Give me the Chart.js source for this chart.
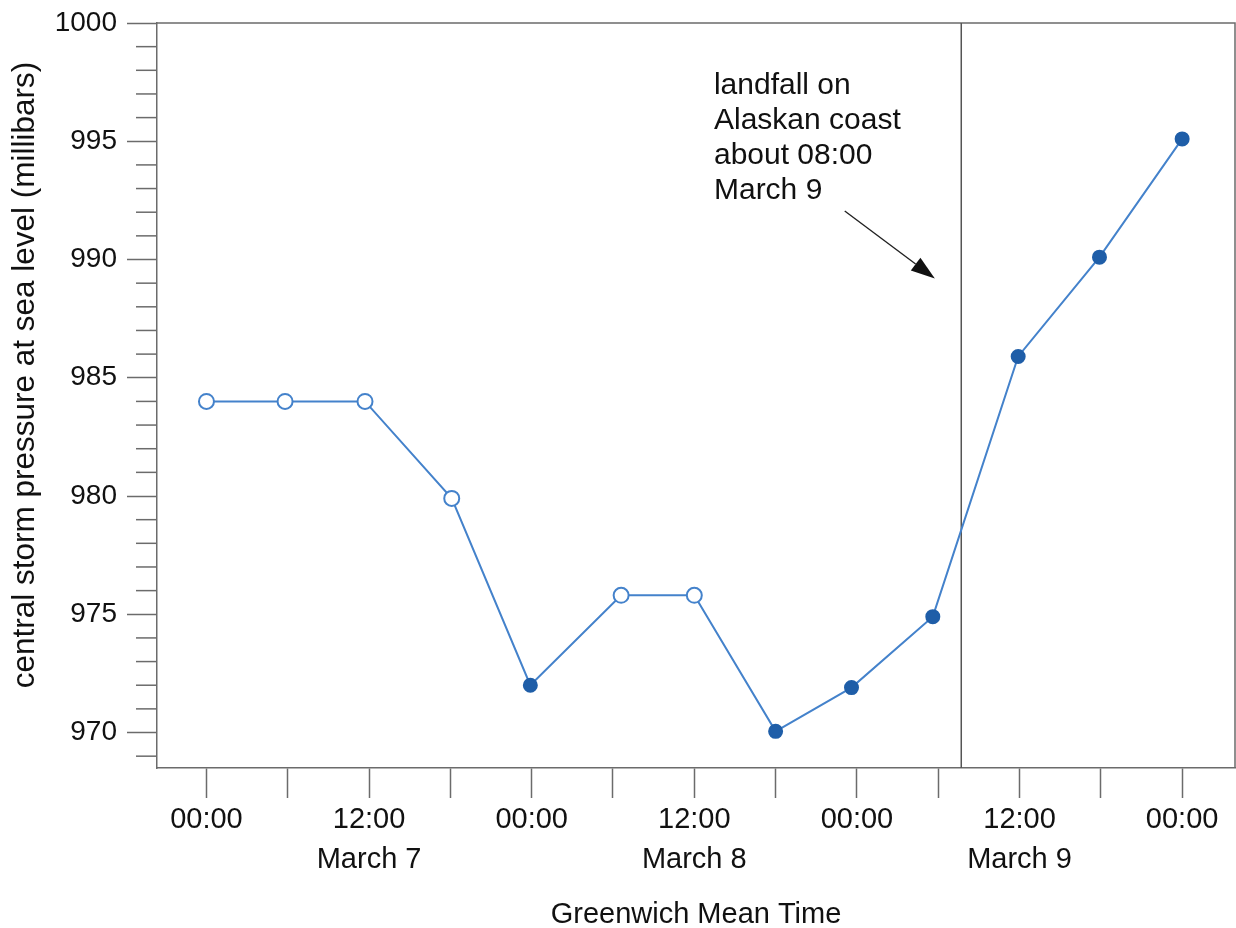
<!DOCTYPE html>
<html><head><meta charset="utf-8">
<script src="https://cdn.jsdelivr.net/npm/chart.js@4.4.1/dist/chart.umd.min.js"></script>
<style>html,body{margin:0;padding:0;background:#fff;overflow:hidden}#wrap{width:1236px;height:928px}</style>
</head><body><div id="wrap"><canvas id="c" width="1236" height="928"></canvas></div>
<script>
// ---- data (hours after 00:00 GMT March 7) ----
const hours = [0, 5.8, 11.7, 18.1, 23.9, 30.6, 36, 42, 47.6, 53.6, 59.9, 65.9, 72];
const pressure = [984, 984, 984, 979.9, 972, 975.8, 975.8, 970.05, 971.9, 974.9, 985.9, 990.1, 995.1];
const filledMarker = [false, false, false, false, true, false, false, true, true, true, true, true, true];

// ---- axis ticks ----
const xTickHours = [0, 6, 12, 18, 24, 30, 36, 42, 48, 54, 60, 66, 72];
const xTickTimes = ['00:00', '', '12:00', '', '00:00', '', '12:00', '', '00:00', '', '12:00', '', '00:00'];
const xTickDates = ['', '', 'March 7', '', '', '', 'March 8', '', '', '', 'March 9', '', ''];
const yMajorTicks = [970, 975, 980, 985, 990, 995, 1000];
const yMinorTicks = [969, 971, 972, 973, 974, 976, 977, 978, 979, 981, 982, 983, 984, 986, 987, 988, 989, 991, 992, 993, 994, 996, 997, 998, 999];

// ---- annotation ----
const landfallHour = 55.7;
const noteLines = ['landfall on', 'Alaskan coast', 'about 08:00', 'March 9'];
const noteAnchor = {hour: 37.45, value: 997};
const arrowFrom = {hour: 47.1, value: 992.05};
const arrowTo = {hour: 53.75, value: 989.2};

const xTitle = 'Greenwich Mean Time';
const yTitle = 'central storm pressure at sea level (millibars)';

const FONT = '"Liberation Sans", Arial, Helvetica, sans-serif';
const AXIS = '#6b6b6b';
const LINE = '#4482cb';
const DARK = '#1f5ea8';

const deco = {
  id: 'deco',
  beforeDatasetsDraw(chart) {
    const {ctx, chartArea: a, scales: {x, y}} = chart;
    ctx.save();
    ctx.strokeStyle = AXIS; ctx.lineWidth = 1.5;
    ctx.beginPath();
    ctx.moveTo(a.left, a.top); ctx.lineTo(a.right, a.top); ctx.lineTo(a.right, a.bottom);
    ctx.stroke();
    const lx = x.getPixelForValue(landfallHour);
    ctx.strokeStyle = '#555'; ctx.lineWidth = 1.5;
    ctx.beginPath(); ctx.moveTo(lx, a.top); ctx.lineTo(lx, a.bottom); ctx.stroke();
    ctx.restore();
  },
  afterDraw(chart) {
    const {ctx, chartArea: a, scales: {x, y}} = chart;
    ctx.save();
    ctx.strokeStyle = AXIS; ctx.lineWidth = 1.5;
    yMinorTicks.forEach(v => {
      const py = y.getPixelForValue(v);
      ctx.beginPath(); ctx.moveTo(a.left - 21, py); ctx.lineTo(a.left, py); ctx.stroke();
    });
    ctx.fillStyle = '#111';
    ctx.font = '30px ' + FONT;
    ctx.textAlign = 'left'; ctx.textBaseline = 'alphabetic';
    const tx = x.getPixelForValue(noteAnchor.hour), ty = y.getPixelForValue(noteAnchor.value);
    noteLines.forEach((t, i) => ctx.fillText(t, tx, ty + i * 35));
    const x0 = x.getPixelForValue(arrowFrom.hour), y0 = y.getPixelForValue(arrowFrom.value);
    const x1 = x.getPixelForValue(arrowTo.hour), y1 = y.getPixelForValue(arrowTo.value);
    const ang = Math.atan2(y1 - y0, x1 - x0);
    const hl = 24, hw = 8;
    const bx = x1 - hl * Math.cos(ang), by = y1 - hl * Math.sin(ang);
    ctx.strokeStyle = '#222'; ctx.lineWidth = 1.4;
    ctx.beginPath(); ctx.moveTo(x0, y0); ctx.lineTo(bx, by); ctx.stroke();
    ctx.fillStyle = '#111';
    ctx.beginPath();
    ctx.moveTo(x1, y1);
    ctx.lineTo(bx + hw * Math.sin(ang), by - hw * Math.cos(ang));
    ctx.lineTo(bx - hw * Math.sin(ang), by + hw * Math.cos(ang));
    ctx.closePath(); ctx.fill();
    ctx.fillStyle = '#111';
    ctx.font = '29px ' + FONT;
    ctx.textAlign = 'center'; ctx.textBaseline = 'alphabetic';
    ctx.fillText(xTitle, (a.left + a.right) / 2, 923);
    ctx.save();
    ctx.translate(34, 375);
    ctx.rotate(-Math.PI / 2);
    ctx.font = '31.5px ' + FONT;
    ctx.fillText(yTitle, 0, 0);
    ctx.restore();
    ctx.restore();
  }
};

new Chart(document.getElementById('c'), {
  type: 'line',
  data: {
    datasets: [{
      data: hours.map((h, i) => ({x: h, y: pressure[i]})),
      borderColor: LINE,
      borderWidth: 2,
      tension: 0,
      fill: false,
      pointRadius: ctx => filledMarker[ctx.dataIndex] ? 6.5 : 7.5,
      pointBorderWidth: 2,
      pointBorderColor: ctx => filledMarker[ctx.dataIndex] ? DARK : LINE,
      pointBackgroundColor: ctx => filledMarker[ctx.dataIndex] ? DARK : '#ffffff'
    }]
  },
  options: {
    responsive: false,
    animation: false,
    devicePixelRatio: 1,
    layout: {autoPadding: false, padding: {left: 0, right: 1, top: 23, bottom: 0}},
    plugins: {legend: {display: false}, tooltip: {enabled: false}},
    scales: {
      x: {
        type: 'linear',
        min: -3.65, max: 75.9,
        afterFit: s => { s.height = 160; s.paddingLeft = 0; s.paddingRight = 0; s.paddingTop = 0; s.paddingBottom = 0; },
        afterBuildTicks: s => { s.ticks = xTickHours.map(v => ({value: v})); },
        grid: {drawOnChartArea: false, drawTicks: true, tickLength: 30, tickColor: AXIS, tickWidth: 1.5},
        border: {display: true, color: AXIS, width: 1.5},
        ticks: {
          autoSkip: false, maxRotation: 0, minRotation: 0, padding: 2,
          color: '#111',
          font: {family: FONT, size: 29, lineHeight: 40 / 29},
          callback: (v, i) => xTickDates[i] ? [xTickTimes[i], xTickDates[i]] : xTickTimes[i]
        }
      },
      y: {
        type: 'linear',
        min: 968.5, max: 1000,
        afterFit: s => { s.width = 157; s.paddingLeft = 0; s.paddingRight = 0; s.paddingTop = 0; s.paddingBottom = 0; },
        afterBuildTicks: s => { s.ticks = yMajorTicks.map(v => ({value: v})); },
        grid: {drawOnChartArea: false, drawTicks: true, tickLength: 30, tickColor: AXIS, tickWidth: 1.5},
        border: {display: true, color: AXIS, width: 1.5},
        ticks: {
          padding: 10, color: '#111',
          font: {family: FONT, size: 28},
          callback: v => String(v)
        }
      }
    }
  },
  plugins: [deco]
});
</script></body></html>
